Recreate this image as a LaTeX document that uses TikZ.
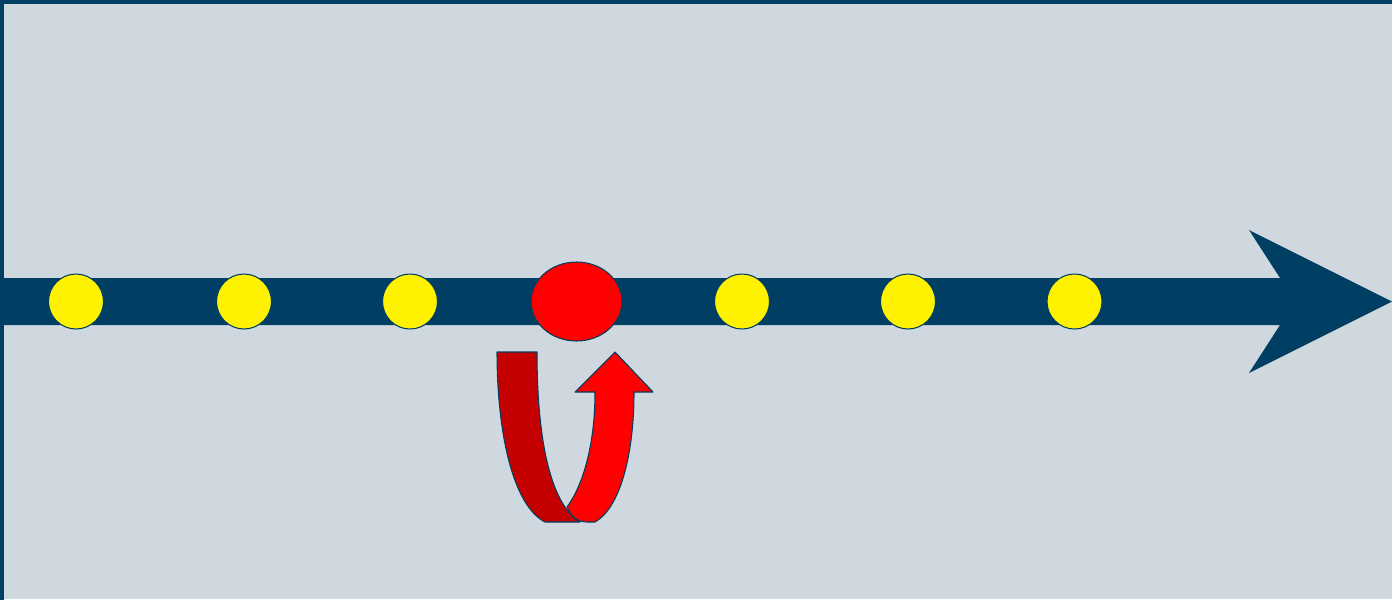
\documentclass[tikz,border=0pt]{standalone}
\usepackage{tikz}
\usetikzlibrary{shapes.geometric}

\definecolor{paneblue}{RGB}{208,216,223}
\definecolor{navy}{RGB}{0,63,99}
\definecolor{darkred}{RGB}{196,0,0}

\tikzset{
	stop/.style={circle, draw=navy, fill=yellow, line width=0.6pt, minimum size=11mm, inner sep=0pt},
	here/.style={ellipse, draw=navy, fill=red, line width=0.6pt, minimum width=18.2mm, minimum height=15.8mm, inner sep=0pt},
	band/.style={draw=navy, line width=0.6pt, line join=round}
}

\begin{document}
\begin{tikzpicture}[x=0.2mm, y=-0.2mm]
	\useasboundingbox (0,0) rectangle (1392,599);
	\clip (0,0) rectangle (1392,599);
	\fill[paneblue] (0,0) rectangle (1392,599);

	% time line
	\coordinate (T0) at (0,301.5);
	\coordinate (Tip) at (1392,301.5);
	\fill[navy] (0,278) -- (1280,278) -- (1249,230) -- (Tip) -- (1249,373) -- (1280,325) -- (0,325) -- cycle;

	% stops on the line
	\foreach \i/\x in {1/76, 2/244, 3/410, 5/742, 6/908, 7/1074.5}
		\node[stop] (s\i) at (\x,301.5) {};
	\node[here] (s4) at (576.5,301.5) {};

	% u-turn under the red stop
	\filldraw[band, fill=darkred] (497,352) -- (537,352) .. controls (537,445) and (552,505) .. (580,522)
		-- (545,522) .. controls (512,505) and (497,430) .. cycle;
	\filldraw[band, fill=red] (595,392) .. controls (595,445) and (583,485) .. (567,507)
		.. controls (571,517) and (578,522) .. (587,522) -- (595,522)
		.. controls (620,508) and (634,455) .. (634,392)
		-- (653,392) -- (615,352) -- (575,392) -- cycle;

	% frame
	\draw[navy, line width=0.7mm] (1.75,620) -- (1.75,1.75) -- (1420,1.75);
\end{tikzpicture}
\end{document}
